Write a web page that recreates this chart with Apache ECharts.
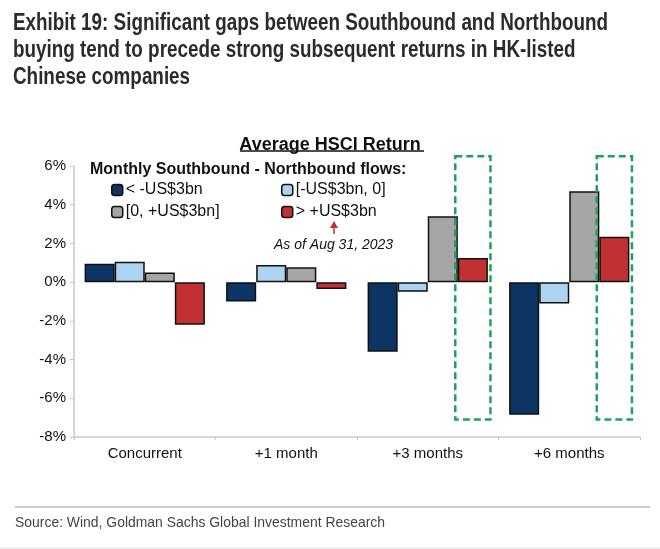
<!DOCTYPE html>
<html><head><meta charset="utf-8">
<script src="https://cdn.jsdelivr.net/npm/echarts@6/dist/echarts.min.js"></script>
<style>html,body{margin:0;padding:0;background:#fff}#c{width:660px;height:549px}</style>
</head><body><div id="c"></div>
<script>
const categories = ['Concurrent', '+1 month', '+3 months', '+6 months'];
const seriesNames = ['< -US$3bn', '[-US$3bn, 0]', '[0, +US$3bn]', '> +US$3bn'];
const belowNeg3 = [0.95, -1.0, -3.6, -6.85];
const neg3to0 = [1.05, 0.88, -0.5, -1.1];
const zeroTo3 = [0.5, 0.77, 3.4, 4.7];
const above3 = [-2.2, -0.35, 1.25, 2.35];
const highlightCats = ['+3 months', '+6 months'];
const highlightRange = [6.5, -7.1];
const yTicks = [-8, -6, -4, -2, 0, 2, 4, 6];
const headerLines = ['Exhibit 19: Significant gaps between Southbound and Northbound',
  'buying tend to precede strong subsequent returns in HK-listed',
  'Chinese companies'];
const sourceText = 'Source: Wind, Goldman Sachs Global Investment Research';

const colors = ['#0c3563', '#acd3f2', '#a5a5a5', '#c23131'];
const chart = echarts.init(document.getElementById('c'), null, {renderer: 'canvas'});
const font = 'Liberation Sans, Arial, sans-serif';

const ctx = document.createElement('canvas').getContext('2d');
function measure(txt, f) { ctx.font = f; return ctx.measureText(txt).width; }
const headFont = 'bold 24px "Liberation Sans"';
const headScale = 595 / measure(headerLines[0], headFont);
const srcFont = '15px "Liberation Sans"';
const srcScale = 370 / measure(sourceText, srcFont);

const barSeries = [belowNeg3, neg3to0, zeroTo3, above3].map((d, i) => ({
  name: seriesNames[i], type: 'bar', data: d, barGap: '0%', barCategoryGap: '15%',
  xAxisIndex: 0, yAxisIndex: 0,
  itemStyle: {color: colors[i], borderColor: '#111', borderWidth: 1.5},
  emphasis: {disabled: true}
}));

const boxSeries = {
  type: 'custom', xAxisIndex: 0, yAxisIndex: 0, silent: true, z: 5,
  data: highlightCats.map(c => [categories.indexOf(c), highlightRange[0], highlightRange[1]]),
  renderItem: function (params, api) {
    const top = api.coord([api.value(0), api.value(1)]);
    const bot = api.coord([api.value(0), api.value(2)]);
    const band = api.size([1, 0])[0];
    const barW = band * 0.85 / 4;
    const cx = top[0] + 1.5 * barW;
    const w = barW * 1.17;
    return {type: 'rect', shape: {x: cx - w / 2, y: top[1], width: w, height: bot[1] - top[1]},
      style: {fill: 'none', stroke: '#22a05a', lineWidth: 2.5, lineDash: [7, 4]}};
  }
};

const legendCommon = {orient: 'vertical', itemWidth: 11, itemHeight: 11, itemGap: 6,
  textStyle: {fontFamily: font, fontSize: 16, color: '#111', padding: [0, 0, 0, -2]},
  itemStyle: {borderColor: '#111', borderWidth: 1.5}, selectedMode: false};

const headerGraphics = headerLines.map((t, i) => ({
  type: 'text', x: 13, y: 11 + i * 27, scaleX: headScale,
  style: {text: t, font: headFont, fill: '#2b2b2b', textVerticalAlign: 'top'}
}));

chart.setOption({
  animation: false,
  grid: {left: 74, right: 20, top: 166, bottom: 112},
  title: [
    {text: 'Average HSCI Return', left: 'center', top: 131, textStyle: {fontFamily: font, fontWeight: 'bold', fontSize: 18, color: '#111'}},
    {text: 'Monthly Southbound - Northbound flows:', left: 85, top: 157, textStyle: {fontFamily: font, fontWeight: 'bold', fontSize: 16, color: '#111'}},
    {text: 'As of Aug 31, 2023', left: 269, top: 233, textStyle: {fontFamily: font, fontStyle: 'italic', fontWeight: 'normal', fontSize: 14, color: '#111'}}
  ],
  legend: [
    Object.assign({}, legendCommon, {data: [seriesNames[0], seriesNames[2]], left: 106, top: 177}),
    Object.assign({}, legendCommon, {data: [seriesNames[1], seriesNames[3]], left: 276, top: 177})
  ],
  xAxis: [
    {type: 'category', data: categories, position: 'bottom',
     axisLine: {show: false}, axisTick: {show: false},
     axisLabel: {fontFamily: font, fontSize: 15, color: '#111', margin: 9}},
    {type: 'category', data: categories, position: 'bottom',
     axisLine: {show: true, onZero: true, lineStyle: {color: '#c8c8c8', width: 1.5}},
     axisTick: {show: true, length: 3, lineStyle: {color: '#c8c8c8'}},
     axisLabel: {show: false}}
  ],
  yAxis: {type: 'value', min: yTicks[0], max: yTicks[yTicks.length - 1], interval: 2,
    splitLine: {show: false},
    axisLine: {show: true, lineStyle: {color: '#c8c8c8', width: 1.5}},
    axisTick: {show: true, length: 4, lineStyle: {color: '#c8c8c8'}},
    axisLabel: {formatter: '{value}%', fontFamily: font, fontSize: 15, color: '#111', margin: 8}},
  series: barSeries.concat([boxSeries, {type: 'bar', xAxisIndex: 1, data: []}]),
  graphic: headerGraphics.concat([
    {type: 'text', x: 15, y: 515, scaleX: srcScale, style: {text: sourceText, font: srcFont, fill: '#444', textVerticalAlign: 'top'}},
    {type: 'line', shape: {x1: 240, y1: 151, x2: 424, y2: 151}, style: {stroke: '#111', lineWidth: 1.5}},
    {type: 'line', shape: {x1: 334, y1: 234, x2: 334, y2: 227}, style: {stroke: '#c23131', lineWidth: 1.5}},
    {type: 'polygon', shape: {points: [[330, 228], [338, 228], [334, 221]]}, style: {fill: '#c23131'}},
    {type: 'line', shape: {x1: 15, y1: 507, x2: 650, y2: 507}, style: {stroke: '#bbb', lineWidth: 1.5}},
    {type: 'line', shape: {x1: 0, y1: 548, x2: 660, y2: 548}, style: {stroke: '#ddd', lineWidth: 1}}
  ])
});
</script></body></html>
